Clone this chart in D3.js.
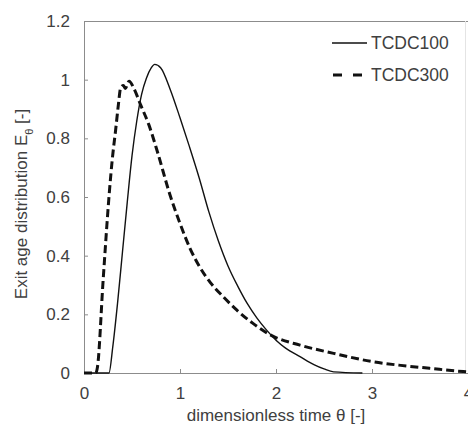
<!DOCTYPE html>
<html>
<head>
<meta charset="utf-8">
<script src="https://cdn.jsdelivr.net/npm/d3@7"></script>
<style>
  body { margin: 0; background: #fff; }
  text { font-family: "Liberation Sans", Arial, sans-serif; fill: #404040; }
</style>
</head>
<body>
<div id="chart"></div>
<script>
var width = 468;
var height = 428;

// TCDC100 (solid)
var theta100 = [0, 0.26, 0.3, 0.35, 0.4, 0.45, 0.5, 0.55, 0.6, 0.65, 0.7, 0.736, 0.8, 0.9, 1.0, 1.1, 1.2, 1.3, 1.4, 1.5, 1.6, 1.7, 1.8, 1.9, 2.0, 2.1, 2.25, 2.4, 2.5, 2.6, 2.9];
var e100 = [0, 0, 0.09, 0.24, 0.41, 0.58, 0.74, 0.86, 0.95, 1.005, 1.04, 1.052, 1.04, 0.965, 0.87, 0.77, 0.665, 0.55, 0.45, 0.365, 0.297, 0.237, 0.188, 0.147, 0.112, 0.085, 0.056, 0.028, 0.014, 0.004, 0];
// TCDC300 (dashed)
var theta300 = [0, 0.12, 0.14, 0.2, 0.265, 0.295, 0.33, 0.36, 0.38, 0.41, 0.43, 0.47, 0.52, 0.59, 0.677, 0.764, 0.896, 1.0, 1.104, 1.208, 1.3125, 1.45, 1.59, 1.76, 1.94, 2.25, 2.6, 3.0, 3.3, 3.6, 3.95, 4.0];
var e300 = [0, 0, 0.02, 0.32, 0.62, 0.73, 0.83, 0.92, 0.97, 0.98, 0.97, 0.995, 0.97, 0.914, 0.845, 0.755, 0.607, 0.51, 0.425, 0.36, 0.31, 0.26, 0.215, 0.169, 0.13, 0.095, 0.067, 0.039, 0.026, 0.016, 0.005, 0.004];

var xTicks = [0, 1, 2, 3, 4];
var yTicks = [0, 0.2, 0.4, 0.6, 0.8, 1, 1.2];
var seriesNames = ['TCDC100', 'TCDC300'];

var plotLeft = 84, plotRight = 468, plotTop = 21, plotBottom = 373;

var svg = d3.select('#chart')
  .append('svg')
  .attr('width', width)
  .attr('height', height);

var xScale = d3.scaleLinear().domain([0, 4]).range([plotLeft, plotRight]);
var yScale = d3.scaleLinear().domain([0, 1.2]).range([plotBottom, plotTop]);

// frame
svg.append('line')
  .attr('x1', plotLeft).attr('x2', plotRight)
  .attr('y1', plotTop + 0.5).attr('y2', plotTop + 0.5)
  .attr('stroke', '#8c8c8c').attr('stroke-width', 1);
svg.append('line')
  .attr('x1', plotRight - 2.5).attr('x2', plotRight - 2.5)
  .attr('y1', plotTop).attr('y2', plotBottom)
  .attr('stroke', '#e4e4e4').attr('stroke-width', 1);

// axes with inward ticks
var xAxis = d3.axisBottom(xScale).tickValues(xTicks).tickSize(-4).tickPadding(14)
  .tickFormat(d3.format('d'));
var yAxis = d3.axisLeft(yScale).tickValues(yTicks).tickSize(-4).tickPadding(14)
  .tickFormat(function(d){ return d3.format('')(d); });

var gx = svg.append('g')
  .attr('transform', 'translate(0,' + plotBottom + ')')
  .call(xAxis);
var gy = svg.append('g')
  .attr('transform', 'translate(' + plotLeft + ',0)')
  .call(yAxis);

[gx, gy].forEach(function(g){
  g.select('.domain').attr('stroke', '#8c8c8c');
  g.selectAll('.tick line').attr('stroke', '#8c8c8c');
  g.selectAll('.tick text')
    .style('font-size', '17px')
    .style('font-family', '"Liberation Sans", Arial, sans-serif')
    .attr('fill', '#404040');
});

// curves
var line = d3.line()
  .x(function(d){ return xScale(d[0]); })
  .y(function(d){ return yScale(d[1]); })
  .curve(d3.curveMonotoneX);

svg.append('path')
  .datum(d3.zip(theta100, e100))
  .attr('d', line)
  .attr('fill', 'none')
  .attr('stroke', '#111')
  .attr('stroke-width', 1.4);

svg.append('path')
  .datum(d3.zip(theta300, e300))
  .attr('d', line)
  .attr('fill', 'none')
  .attr('stroke', '#111')
  .attr('stroke-width', 3)
  .attr('stroke-dasharray', '8,4');

// legend
var legend = svg.append('g');
legend.append('line')
  .attr('x1', 332).attr('x2', 367).attr('y1', 43).attr('y2', 43)
  .attr('stroke', '#111').attr('stroke-width', 1.4);
legend.append('line')
  .attr('x1', 333).attr('x2', 363).attr('y1', 75).attr('y2', 75)
  .attr('stroke', '#111').attr('stroke-width', 3)
  .attr('stroke-dasharray', '9,11');
legend.selectAll('text.leg')
  .data(seriesNames)
  .enter()
  .append('text')
  .attr('class', 'leg')
  .attr('x', 371)
  .attr('y', function(d, i){ return 49 + i * 32; })
  .style('font-size', '17.5px')
  .text(function(d){ return d; });

// axis titles
svg.append('text')
  .attr('x', 276)
  .attr('y', 421)
  .attr('text-anchor', 'middle')
  .style('font-size', '17px')
  .text('dimensionless time θ [-]');

var yt = svg.append('text')
  .attr('text-anchor', 'middle')
  .attr('transform', 'translate(27,204)rotate(-90)')
  .style('font-size', '17px');
yt.append('tspan').text('Exit age distribution E');
yt.append('tspan').attr('baseline-shift', 'sub').style('font-size', '11px').text('θ');
yt.append('tspan').text(' [-]');
</script>
</body>
</html>
